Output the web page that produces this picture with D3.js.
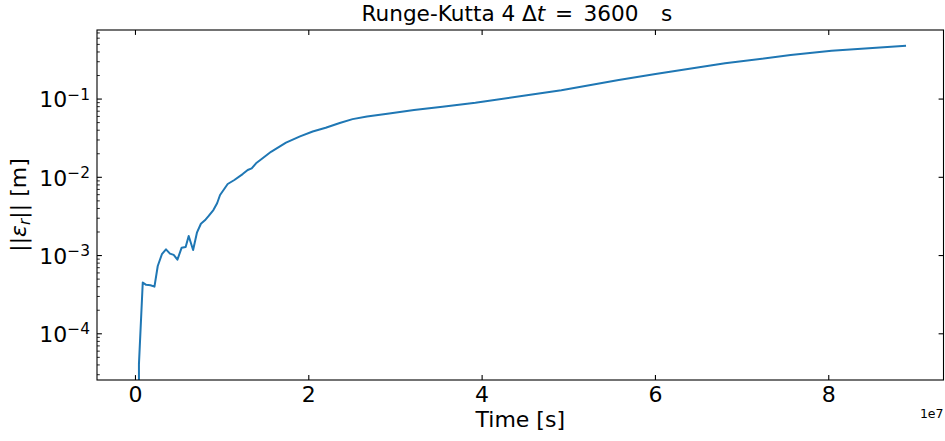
<!DOCTYPE html>
<html>
<head>
<meta charset="utf-8">
<script src="https://cdn.jsdelivr.net/npm/d3@7"></script>
<style>
  html, body { margin: 0; padding: 0; background: #fff; }
  svg { display: block; font-family: "DejaVu Sans", sans-serif; }
</style>
</head>
<body>
<svg id="chart" width="945" height="441"></svg>
<script>
// ---- data (time in seconds, error norm in metres) ----
const times = [0, 0.04e7, 0.084e7, 0.123e7, 0.173e7, 0.219e7, 0.257e7, 0.305e7, 0.352e7, 0.398e7,
  0.441e7, 0.484e7, 0.533e7, 0.579e7, 0.614e7, 0.665e7, 0.709e7, 0.755e7, 0.801e7, 0.845e7,
  0.899e7, 0.942e7, 0.976e7, 1.064e7, 1.141e7, 1.237e7, 1.295e7, 1.341e7, 1.391e7, 1.467e7,
  1.564e7, 1.737e7, 1.899e7, 2.045e7, 2.195e7, 2.357e7, 2.505e7, 2.672e7, 2.928e7, 3.214e7,
  3.542e7, 3.922e7, 4.536e7, 4.914e7, 5.576e7, 6.001e7, 6.803e7, 7.560e7, 8.032e7, 8.88e7];
const errors = [0, 4.1e-5, 4.53e-4, 4.22e-4, 4.18e-4, 4.01e-4, 7.36e-4, 1.04e-3, 1.20e-3, 1.06e-3,
  1.02e-3, 8.87e-4, 1.26e-3, 1.29e-3, 1.78e-3, 1.18e-3, 1.96e-3, 2.55e-3, 2.82e-3, 3.21e-3,
  3.82e-3, 4.66e-3, 5.94e-3, 8.21e-3, 9.24e-3, 1.10e-2, 1.24e-2, 1.30e-2, 1.51e-2, 1.75e-2,
  2.12e-2, 2.77e-2, 3.34e-2, 3.85e-2, 4.30e-2, 4.94e-2, 5.54e-2, 5.98e-2, 6.53e-2, 7.24e-2,
  8.0e-2, 8.97e-2, 0.1125, 0.130, 0.175, 0.209, 0.286, 0.365, 0.414, 0.478];
const xTickValues = [0, 2e7, 4e7, 6e7, 8e7];
const xTickLabels = ["0", "2", "4", "6", "8"];
const yTickExponents = [-4, -3, -2, -1];
const titleText = "Runge-Kutta 4";
const xLabelText = "Time [s]";
const offsetText = "1e7";

// ---- layout ----
const svg = d3.select("#chart");
const L = 97, R = 943.5, T = 30, B = 380;
const FS = 22;

// x domain: data extent with 5% margin (matplotlib style)
const xMin = d3.min(times), xMax = d3.max(times), xr = xMax - xMin;
const x = d3.scaleLinear().domain([xMin - 0.05 * xr, xMax + 0.05 * xr]).range([L, R]);

// y domain: positive data extent with 5% margin in log space
const pos = errors.filter(v => v > 0);
const lmin = Math.log10(d3.min(pos)), lmax = Math.log10(d3.max(pos)), lr = lmax - lmin;
const y = d3.scaleLog().domain([Math.pow(10, lmin - 0.05 * lr), Math.pow(10, lmax + 0.05 * lr)]).range([B, T]);

// clip
svg.append("defs").append("clipPath").attr("id", "clip")
  .append("rect").attr("x", L).attr("y", T).attr("width", R - L).attr("height", B - T);

// line (non-positive values clipped to a tiny number, like matplotlib)
const line = d3.line()
  .x((d, i) => x(times[i]))
  .y(d => y(d > 0 ? d : 1e-300));
svg.append("path")
  .datum(errors)
  .attr("clip-path", "url(#clip)")
  .attr("fill", "none")
  .attr("stroke", "#1f77b4")
  .attr("stroke-width", 2)
  .attr("stroke-linejoin", "round")
  .attr("stroke-linecap", "square")
  .attr("d", line);

// ---- axes ticks (inward) ----
const majorLen = 4.9, minorLen = 2.8;
const [yd0, yd1] = y.domain();
const majorY = yTickExponents.map(e => Math.pow(10, e));
const minorY = [];
for (let e = Math.floor(Math.log10(yd0)); e <= Math.ceil(Math.log10(yd1)); e++) {
  for (let k = 2; k <= 9; k++) {
    const v = k * Math.pow(10, e);
    if (v >= yd0 && v <= yd1) minorY.push(v);
  }
}

const ax = svg.append("g");
xTickValues.forEach(v => {
  ax.append("line").attr("x1", x(v)).attr("x2", x(v)).attr("y1", B).attr("y2", B - majorLen)
    .attr("stroke", "#000").attr("stroke-width", 1.1);
  ax.append("line").attr("x1", x(v)).attr("x2", x(v)).attr("y1", T).attr("y2", T + majorLen)
    .attr("stroke", "#000").attr("stroke-width", 1.1);
});
majorY.forEach(v => {
  ax.append("line").attr("x1", L).attr("x2", L + majorLen).attr("y1", y(v)).attr("y2", y(v))
    .attr("stroke", "#000").attr("stroke-width", 1.1);
  ax.append("line").attr("x1", R).attr("x2", R - majorLen).attr("y1", y(v)).attr("y2", y(v))
    .attr("stroke", "#000").attr("stroke-width", 1.1);
});
minorY.forEach(v => {
  ax.append("line").attr("x1", L).attr("x2", L + minorLen).attr("y1", y(v)).attr("y2", y(v))
    .attr("stroke", "#000").attr("stroke-width", 0.85);
});

// frame
svg.append("rect").attr("x", L).attr("y", T).attr("width", R - L).attr("height", B - T)
  .attr("fill", "none").attr("stroke", "#000").attr("stroke-width", 1.1);

// ---- tick labels ----
xTickValues.forEach((v, i) => {
  svg.append("text").attr("x", x(v)).attr("y", 402)
    .attr("text-anchor", "middle").attr("font-size", FS).attr("fill", "#000")
    .text(xTickLabels[i]);
});
yTickExponents.forEach(e => {
  const ty = y(Math.pow(10, e));
  const t = svg.append("text").attr("x", 90).attr("y", ty + 8.3)
    .attr("text-anchor", "end").attr("font-size", FS).attr("fill", "#000");
  t.append("tspan").text("10");
  t.append("tspan").attr("dy", -7.6).attr("font-size", 15.4).text("\u2212" + Math.abs(e));
});

// offset text
svg.append("text").attr("x", R).attr("y", 418).attr("text-anchor", "end")
  .attr("font-size", 12.5).attr("fill", "#000").text(offsetText);

// x label
svg.append("text").attr("x", (L + R) / 2).attr("y", 427).attr("text-anchor", "middle")
  .attr("font-size", FS).attr("fill", "#000").text(xLabelText);

// y label  ||ε_r|| [m]
const yl = svg.append("text")
  .attr("transform", `translate(26,${(T + B) / 2}) rotate(-90)`)
  .attr("text-anchor", "middle").attr("font-size", FS).attr("fill", "#000");
yl.append("tspan").text("||");
yl.append("tspan").attr("font-style", "italic").text("\u03b5");
yl.append("tspan").attr("font-style", "italic").attr("font-size", 15.4).attr("dy", 4).text("r");
yl.append("tspan").attr("dy", -4).text("|| [m]");

// title: Runge-Kutta 4 Δt = 3600 s
const tt = svg.append("text").attr("y", 21).attr("font-size", 21.6).attr("fill", "#000");
tt.append("tspan").attr("x", 361.5).text(titleText);
tt.append("tspan").attr("x", 522).text("\u0394");
tt.append("tspan").attr("font-style", "italic").text("t");
tt.append("tspan").attr("x", 555).text("=");
tt.append("tspan").attr("x", 583.5).text("3600");
tt.append("tspan").attr("x", 661).text("s");
</script>
</body>
</html>
